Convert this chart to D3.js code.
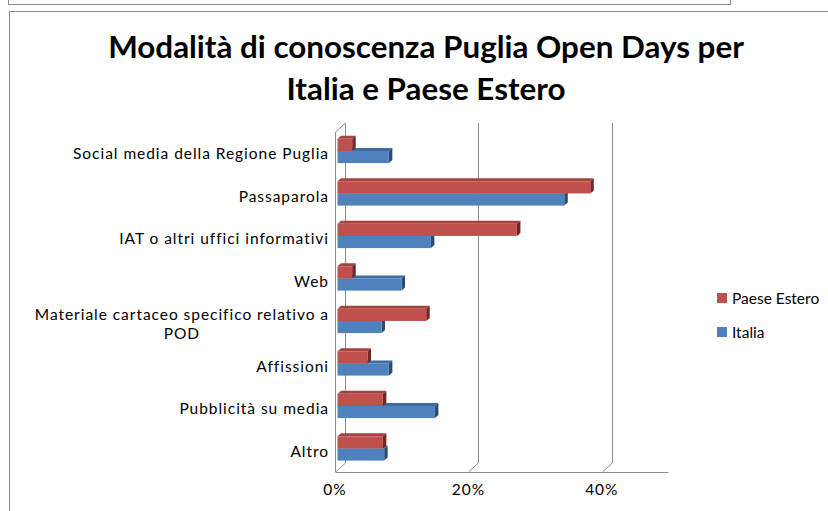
<!DOCTYPE html>
<html><head><meta charset="utf-8">
<script src="https://cdn.jsdelivr.net/npm/d3@7"></script>
<style>body{margin:0;background:#fff} svg{display:block}</style>
</head><body><svg id="c" width="828" height="511"></svg>
<script>
const categories = ["Social media della Regione Puglia","Passaparola","IAT o altri uffici informativi","Web","Materiale cartaceo specifico relativo a POD","Affissioni","Pubblicità su media","Altro"];
const italia = [7.7,34.0,14.0,9.6,6.6,7.7,14.6,7.0];
const paeseEstero = [2.2,37.9,26.9,2.2,13.3,4.5,6.8,6.8];
const seriesNames = ["Paese Estero","Italia"];
const tickValues = [0,20,40];
const titleLines = ["Modalità di conoscenza Puglia Open Days per","Italia e Paese Estero"];

const FONT = "Lato, 'Open Sans', sans-serif";
const FS = 15.5;
const svg = d3.select("#c");
const grey = "#8c8c8c";

// outer frames
svg.append("rect").attr("x",8.5).attr("y",-5).attr("width",722).attr("height",9.5)
  .attr("fill","none").attr("stroke",grey);
svg.append("rect").attr("x",9.5).attr("y",11.5).attr("width",840).attr("height",530)
  .attr("fill","#fff").attr("stroke",grey);

// title
const title = svg.append("g").attr("font-family",FONT).attr("font-weight",700).attr("fill","#000");
titleLines.forEach((t,i)=>{
  title.append("text").attr("x",426).attr("y",58+i*42).attr("text-anchor","middle")
    .attr("font-size",28).text(t);
});
const tw = title.select("text").node().getComputedTextLength();
title.selectAll("text").attr("font-size",28*636/tw);

// scales
const x = d3.scaleLinear().domain([0,50]).range([335,668.5]);
const y = d3.scaleBand().domain(categories).range([132,472]);
const inner = d3.scaleBand().domain(seriesNames).range([0,y.bandwidth()]).paddingOuter(0.75);
const back = {dx:10, dy:-9};
const barOff = {dx:2.5, dy:-2.3};
const face = {dx:3.5, dy:-3};

// walls and gridlines
const grid = svg.append("g").attr("stroke",grey).attr("fill","none").attr("stroke-width",1);
const y0 = y.range()[0], y1 = y.range()[1];
tickValues.forEach(v=>{
  const xb = Math.round(x(v)+back.dx)+0.5, xf = Math.round(x(v))+0.5;
  grid.append("path").attr("d",`M${xb},${y0+back.dy}V${y1+back.dy}L${xf},${y1}`);
});
const xf0 = Math.round(x(0))+0.5;
grid.append("path").attr("d",`M${xf0+back.dx},${y0+back.dy}L${xf0},${y0}V${y1}`);
grid.append("path").attr("d",`M${xf0},${y1+0.5}H${x(50)}`);

// bars
const colors = {"Paese Estero":{front:"#C0504D",top:"#a3423f",side:"#6e2826"},
                "Italia":{front:"#4F81BD",top:"#3f6ca0",side:"#2b4b73"}};
const bars = svg.append("g");
categories.forEach((c,i)=>{
  const vals = {"Paese Estero":paeseEstero[i],"Italia":italia[i]};
  ["Italia","Paese Estero"].forEach(s=>{
    const X0 = x(0)+barOff.dx, X1 = x(vals[s])+barOff.dx;
    const Y = y(c)+inner(s)+barOff.dy, h = inner.bandwidth();
    const col = colors[s];
    bars.append("path").attr("fill",col.top)
      .attr("d",`M${X0},${Y}L${X1},${Y}L${X1+face.dx},${Y+face.dy}L${X0+face.dx},${Y+face.dy}Z`);
    bars.append("path").attr("fill",col.side)
      .attr("d",`M${X1},${Y}L${X1+face.dx},${Y+face.dy}L${X1+face.dx},${Y+h+face.dy}L${X1},${Y+h}Z`);
    bars.append("rect").attr("fill",col.front).attr("x",X0).attr("y",Y).attr("width",X1-X0).attr("height",h);
  });
});

// category labels
const lab = svg.append("g").attr("font-family",FONT).attr("font-size",FS).attr("fill","#000");
const probe = lab.append("text").text(categories[0]);
const nat = probe.node().getComputedTextLength();
const ls = Math.max(0,(255 - nat)/(categories[0].length-1));
probe.remove();
lab.attr("letter-spacing",ls);
const labelRight = 329, maxW = 305;
function measure(t){ const n = lab.append("text").text(t); const w = n.node().getComputedTextLength(); n.remove(); return w; }
categories.forEach(c=>{
  const words = c.split(" ");
  let lines = [], cur = "";
  words.forEach(wd=>{
    const test = cur ? cur+" "+wd : wd;
    if(measure(test) > maxW && cur){ lines.push(cur); cur = wd; } else cur = test;
  });
  lines.push(cur);
  const widest = d3.max(lines, measure);
  const cx = labelRight - widest/2;
  const cy = y(c) + y.bandwidth()/2 + 6;
  lines.forEach((l,k)=>{
    lab.append("text").attr("x",cx).attr("y",cy + (k-(lines.length-1)/2)*19)
      .attr("text-anchor","middle").text(l);
  });
});

// tick labels
const ticks = svg.append("g").attr("font-family",FONT).attr("font-size",FS).attr("letter-spacing",ls).attr("fill","#000");
tickValues.forEach(v=>{
  ticks.append("text").attr("x",x(v)).attr("y",495).attr("text-anchor","middle").text(v+"%");
});

// legend
const leg = svg.append("g").attr("font-family",FONT).attr("font-size",FS).attr("fill","#000");
seriesNames.forEach((s,i)=>{
  leg.append("rect").attr("x",717).attr("y",293+i*34).attr("width",10).attr("height",10).attr("fill",colors[s].front);
  leg.append("text").attr("x",732).attr("y",304+i*34).text(s);
});
const lw = leg.select("text").node().getComputedTextLength();
if(lw > 93) leg.attr("font-size", FS*93/lw);
</script></body></html>
